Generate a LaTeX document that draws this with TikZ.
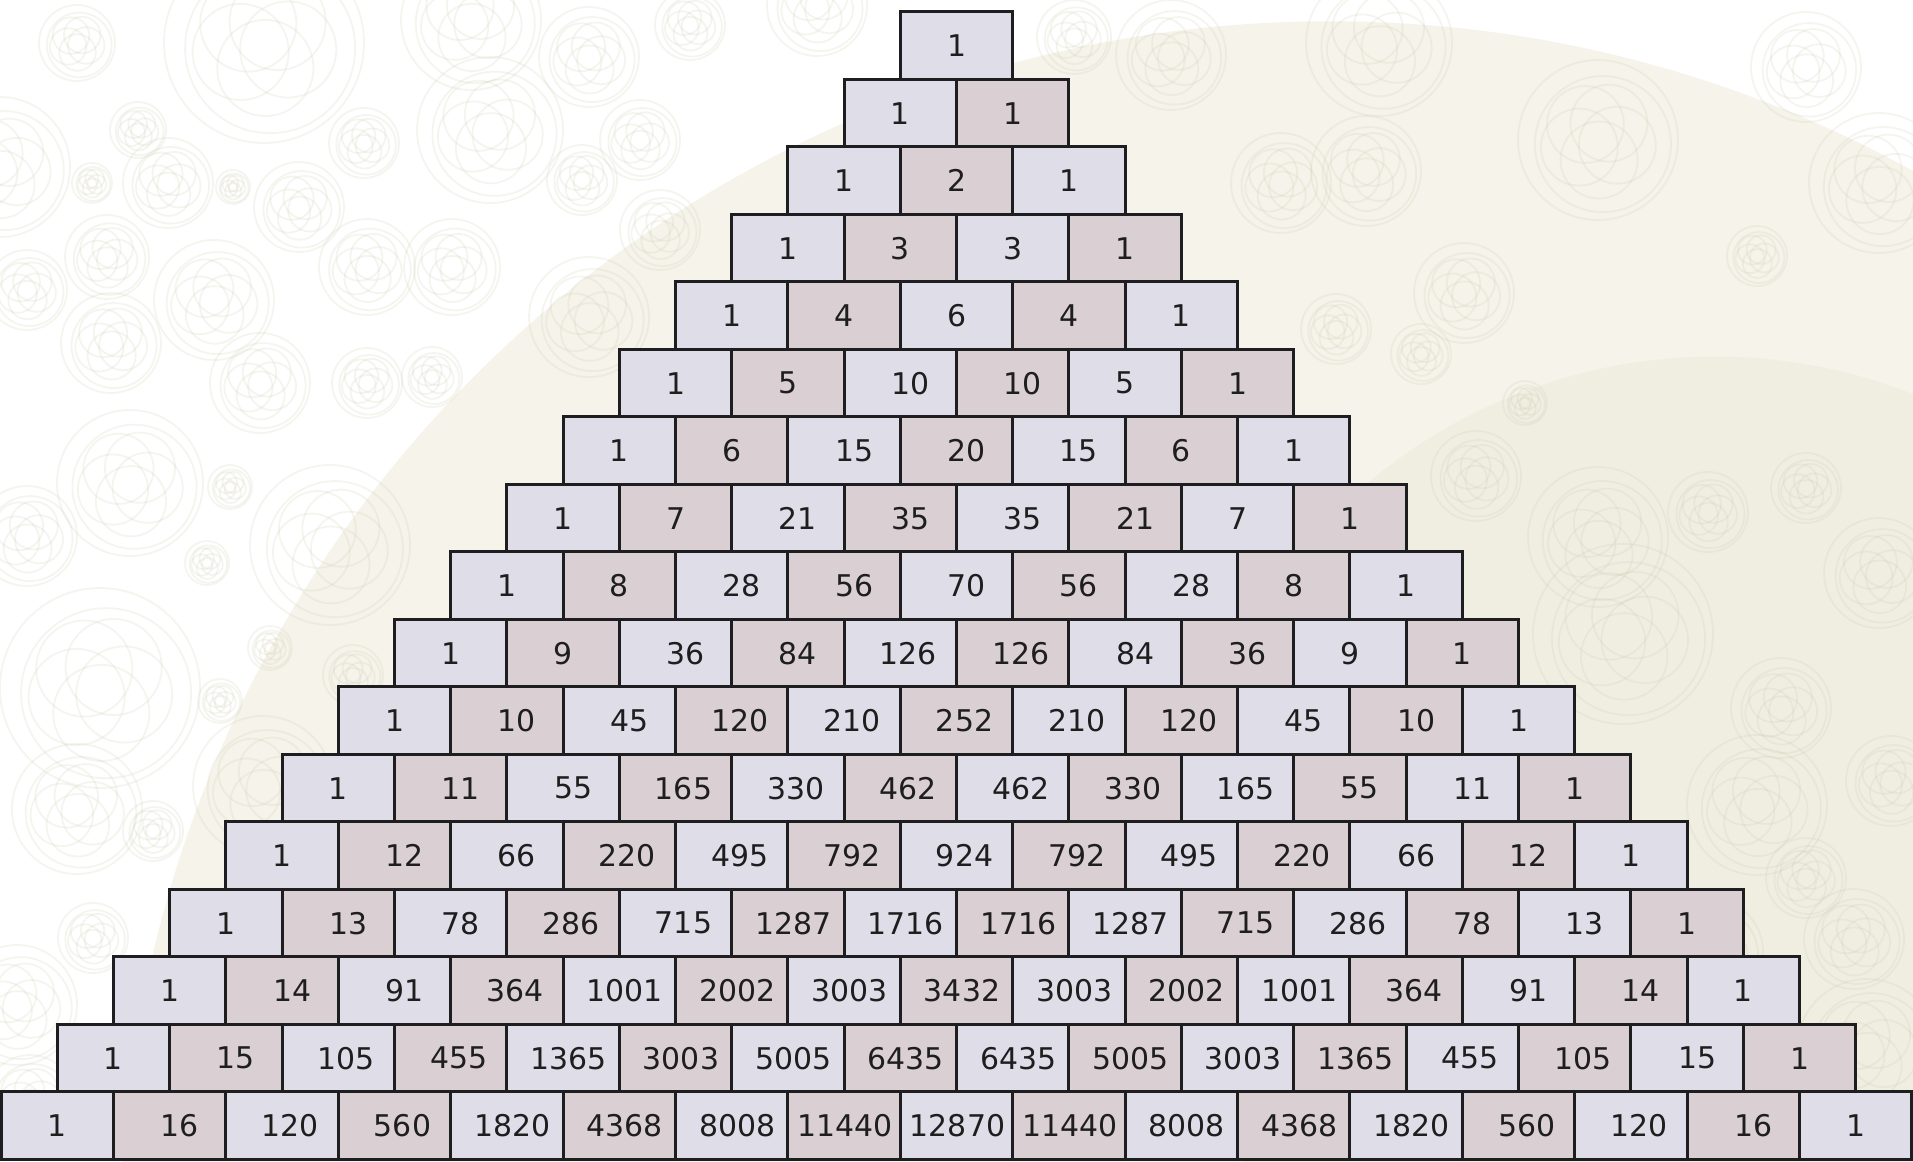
\documentclass[tikz,border=0pt]{standalone}
\usepackage{fontspec}
\setmainfont{DejaVu Sans}
\usepackage{xcolor}
\definecolor{pascallav}{RGB}{223,221,232}
\definecolor{pascalrose}{RGB}{218,207,211}
\definecolor{pascalline}{RGB}{30,30,32}
\definecolor{pascalink}{RGB}{30,30,30}
\definecolor{bgsand}{RGB}{245,243,234}
\definecolor{bgsanddeep}{RGB}{239,238,225}
\definecolor{bgrose}{RGB}{200,196,165}
\tikzset{
  cell/.style={draw=pascalline,line width=0.03cm,minimum width=1.124cm,minimum height=0.675cm,inner sep=0pt},
  num/.style={text=pascalink,font=\fontsize{8.5}{10}\selectfont,inner sep=0pt},
  rosetteline/.style={draw=bgrose,line width=0.018cm,opacity=0.17}
}
% one faint rosette of the background: x, y, radius
\newcommand{\rosette}[3]{%
  \draw[rosetteline] (#1,#2) circle[radius=#3*0.01cm];
  \draw[rosetteline,shift={(#1,#2)}] (40:0.08*#3) circle[radius=#3*0.0085cm];
  \foreach \a in {0,72,...,288}
    \draw[rosetteline,shift={(#1,#2)}] (\a+15:0.25*#3) circle[radius=#3*0.0048cm];
}
\begin{document}
\begin{tikzpicture}[x=0.01cm,y=-0.01cm]
  \useasboundingbox (0,0) rectangle (1913,1161);
  % background
  \fill[white] (0,0) rectangle (1913,1161);
  \begin{scope}
    \clip (0,0) rectangle (1913,1161);
    \fill[bgsand] (1330,1230) circle[radius=12.08cm];
    \fill[bgsanddeep] (1715,897) circle[radius=5.4cm];
    \foreach \x/\y/\r in {77/43/38,264/43/100,471/20/70,490/130/73,589/57/50,364/143/35,0/167/70,138/130/28,
      92/183/20,168/183/45,233/187/17,299/207/45,582/180/35,107/257/42,27/290/40,214/300/60,367/267/48,
      452/267/48,111/343/50,589/317/60,260/383/50,367/383/35,432/377/30,130/483/73,27/536/50,100/688/100,
      77/809/65,330/545/80,230/487/22,207/563/22,270/648/22,220/701/22,353/675/30,263/786/70,153/831/30,
      93/938/35,17/1005/60,30/1100/45,690/25/35,640/140/40,660/230/40,
      817/6/50,1074/37/37,1171/55/55,1379/43/73,1281/183/50,1366/171/55,1598/140/80,1806/67/55,1879/183/70,
      1757/256/30,1464/293/50,1421/354/30,1336/329/35,1525/403/22,1598/537/70,1476/476/45,1708/512/40,
      1806/488/35,1879/573/55,1623/634/90,1781/708/50,1891/781/45,1757/805/70,1708/952/55,1854/939/50,
      1647/1061/50,1867/1049/70,1806/878/40}
      \rosette{\x}{\y}{\r};
  \end{scope}
  % the triangle, row by row
  \foreach \vals [count=\r from 0] in {{1},{1,1},{1,2,1},{1,3,3,1},{1,4,6,4,1},{1,5,10,10,5,1},
      {1,6,15,20,15,6,1},{1,7,21,35,35,21,7,1},{1,8,28,56,70,56,28,8,1},{1,9,36,84,126,126,84,36,9,1},
      {1,10,45,120,210,252,210,120,45,10,1},{1,11,55,165,330,462,462,330,165,55,11,1},
      {1,12,66,220,495,792,924,792,495,220,66,12,1},{1,13,78,286,715,1287,1716,1716,1287,715,286,78,13,1},
      {1,14,91,364,1001,2002,3003,3432,3003,2002,1001,364,91,14,1},
      {1,15,105,455,1365,3003,5005,6435,6435,5005,3003,1365,455,105,15,1},
      {1,16,120,560,1820,4368,8008,11440,12870,11440,8008,4368,1820,560,120,16,1}}{
    \foreach \v [count=\k from 0] in \vals {
      \ifodd\k\relax\def\cf{pascalrose}\else\def\cf{pascallav}\fi
      \pgfmathsetmacro\sh{ifthenelse(\v<10,0,ifthenelse(\v<100,10,ifthenelse(\v<1000,8,ifthenelse(\v<10000,5.5,1))))}
      \node[cell,fill=\cf] (c\r-\k) at ({956.5+(\k-\r/2)*112.4},{45.75+67.5*\r}) {};
      \node[num,xshift=\sh*0.01cm] (n\r-\k) at (c\r-\k) {\v};
    }
  }
\end{tikzpicture}
\end{document}
